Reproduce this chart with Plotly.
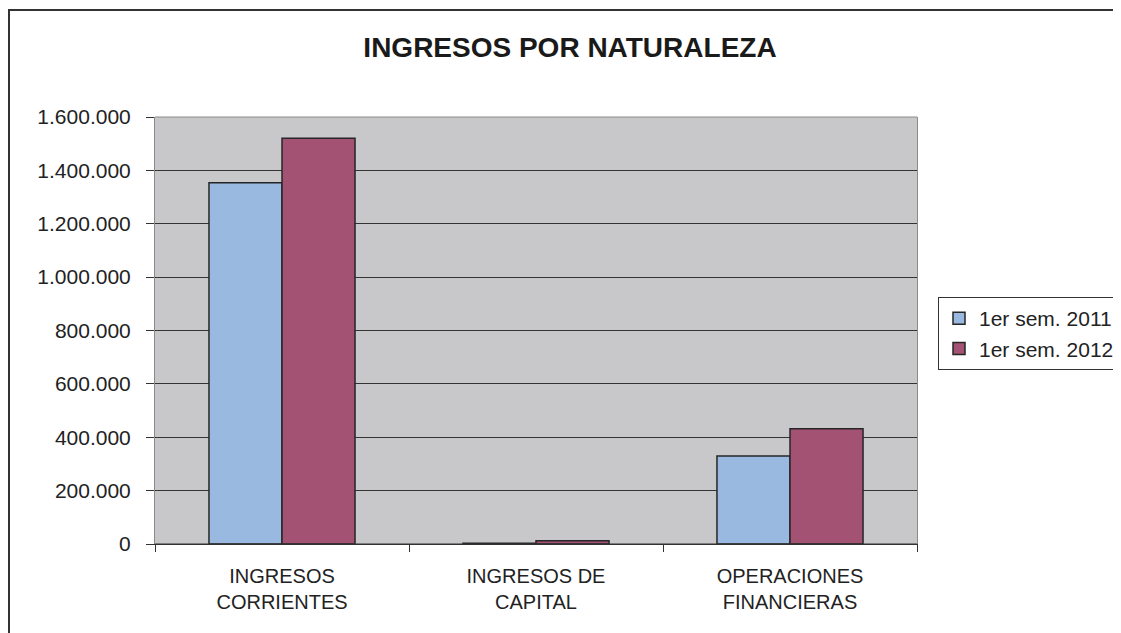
import plotly.graph_objects as go

categories = ["INGRESOS<br>CORRIENTES", "INGRESOS DE<br>CAPITAL", "OPERACIONES<br>FINANCIERAS"]
series_names = ["1er sem. 2011", "1er sem. 2012"]
values_2011 = [1354000, 2500, 330000]
values_2012 = [1520000, 12500, 432000]
y_tickvals = [0, 200000, 400000, 600000, 800000, 1000000, 1200000, 1400000, 1600000]
y_ticktext = ["0", "200.000", "400.000", "600.000", "800.000", "1.000.000", "1.200.000", "1.400.000", "1.600.000"]

FONT = "Arial, Liberation Sans, sans-serif"
colors = ["#99B9E1", "#A35274"]

W, H = 1113, 625
L, R, T, B = 147, 204, 109, 89
PW, PH = W - L - R, H - T - B

fig = go.Figure()
for name, vals, col, grp in [(series_names[0], values_2011, colors[0], "a"),
                             (series_names[1], values_2012, colors[1], "b")]:
    fig.add_trace(go.Bar(
        x=categories, y=vals, name=name, legendgroup=grp,
        marker=dict(color=col, line=dict(color="#262626", width=1.5)),
    ))

fig.update_layout(
    width=W, height=H,
    margin=dict(l=L, r=R, t=T, b=B, autoexpand=False),
    paper_bgcolor="white",
    plot_bgcolor="#C8C8CA",
    barmode="group", bargap=0.425, bargroupgap=0,
    font=dict(family=FONT, color="#222222", size=20),
    title=dict(text="<b>INGRESOS POR NATURALEZA</b>", xref="container", x=562 / W, xanchor="center",
               yref="container", y=1 - 39 / H, yanchor="middle",
               font=dict(family=FONT, size=28, color="#1a1a1a")),
    showlegend=True,
    legend=dict(x=(930 - L) / PW, xanchor="left", y=(H - B - 289) / PH, yanchor="top",
                bordercolor="#333333", borderwidth=1, bgcolor="white",
                font=dict(family=FONT, size=21, color="#222222"),
                traceorder="grouped", tracegroupgap=0, itemwidth=30),
    xaxis=dict(type="category", tickson="boundaries", ticks="outside", ticklen=7,
               tickcolor="#333333", showline=True, linecolor="#333333", linewidth=1,
               showgrid=False, ticklabelstandoff=14, fixedrange=True,
               tickfont=dict(size=20)),
    yaxis=dict(range=[0, 1600000], tickvals=y_tickvals, ticktext=y_ticktext,
               ticks="outside", ticklen=8, tickcolor="#333333",
               showgrid=True, gridcolor="#333333", gridwidth=1,
               showline=True, linecolor="#8a8a8a", linewidth=1, mirror=True,
               zeroline=False, ticklabelstandoff=11, fixedrange=True,
               tickfont=dict(size=21)),
    shapes=[
        dict(type="line", xref="paper", yref="paper", x0=0, x1=1, y0=1, y1=1,
             line=dict(color="#8a8a8a", width=1), layer="above"),
        dict(type="line", xref="paper", yref="paper", x0=0, x1=1, y0=0, y1=0,
             line=dict(color="#333333", width=1), layer="above"),
        dict(type="rect", xref="paper", yref="paper",
             x0=(1 - L) / PW, x1=1.5, y0=-0.5, y1=(H - B - 2) / PH,
             line=dict(color="#333333", width=2), fillcolor="rgba(0,0,0,0)", layer="above"),
    ],
)

fig.write_html("out.html")
